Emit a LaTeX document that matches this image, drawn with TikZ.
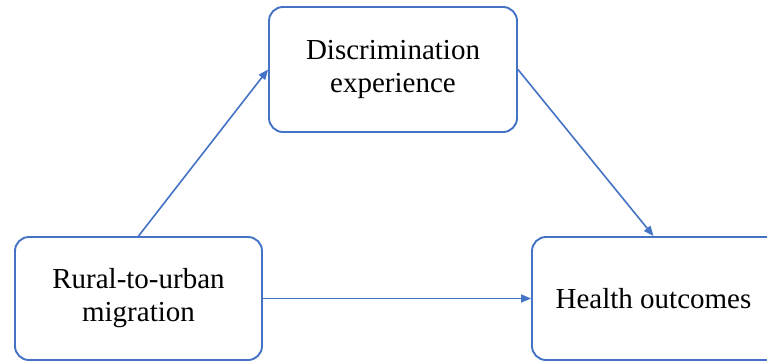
\documentclass[tikz,border=0pt]{standalone}
\usepackage{fontspec}
\setmainfont{Liberation Serif}
\usetikzlibrary{arrows.meta}
\definecolor{offblue}{HTML}{4472C4}
\tikzset{
  box/.style={draw=offblue, line width=1.9pt, rounded corners=14pt, fill=white,
    align=center, inner sep=0pt, font=\fontsize{29}{33}\selectfont, text=black},
  conn/.style={draw=offblue, line width=1.6pt, -{Triangle[length=10pt,width=8pt]}}
}
\begin{document}
\begin{tikzpicture}[x=1pt,y=-1pt]
\path[use as bounding box, clip] (0,0) rectangle (767,362);
\fill[white] (0,0) rectangle (767,362);
\node[box, minimum width=247pt, minimum height=123pt] (rural) at (138.5,298.5) {Rural-to-urban\\migration};
\node[box, minimum width=248pt, minimum height=125pt] (disc) at (393,69.5) {Discrimination\\experience};
\node[box, minimum width=273pt, minimum height=123pt] (health) at (668.5,298.5) {Health outcomes\hspace*{30pt}};
\draw[conn] (rural.north) -- (disc.west);
\draw[conn] (disc.east) -- ([xshift=-15pt]health.north);
\draw[conn] (rural.east) -- (health.west);
\end{tikzpicture}
\end{document}
